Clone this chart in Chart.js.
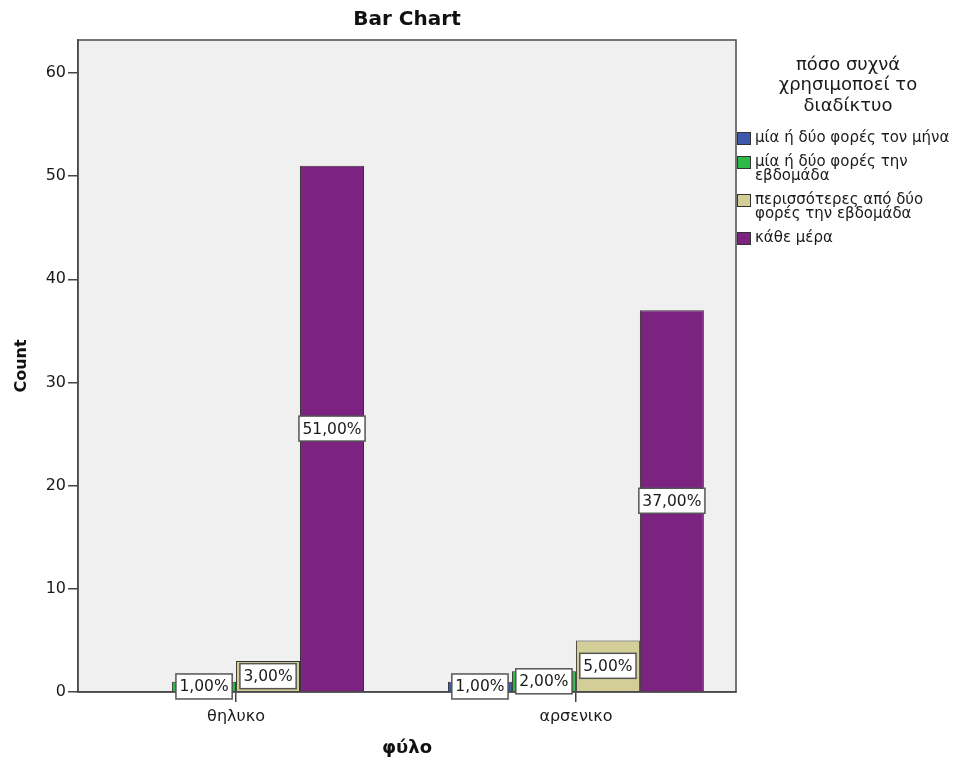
<!DOCTYPE html>
<html><head><meta charset="utf-8">
<script src="https://cdn.jsdelivr.net/npm/chart.js@4"></script>
<style>html,body{margin:0;padding:0;background:#fff}#wrap{width:966px;height:764px;position:relative}</style>
</head><body><div id="wrap"><canvas id="c" width="966" height="764"></canvas></div>
<script>
// ---- data ----
const chartTitle = 'Bar Chart';
const xTitle = 'φύλο';
const yTitle = 'Count';
const categories = ['θηλυκο', 'αρσενικο'];
const legendTitle = ['πόσο συχνά', 'χρησιμοποεί το', 'διαδίκτυο'];
const seriesNames = ['μία ή δύο φορές τον μήνα', 'μία ή δύο φορές την εβδομάδα', 'περισσότερες από δύο φορές την εβδομάδα', 'κάθε μέρα'];
const seriesLegendLines = [['μία ή δύο φορές τον μήνα'], ['μία ή δύο φορές την', 'εβδομάδα'], ['περισσότερες από δύο', 'φορές την εβδομάδα'], ['κάθε μέρα']];
const onceTwiceMonth = [0, 1];
const onceTwiceWeek = [1, 2];
const moreThanTwiceWeek = [3, 5];
const everyDay = [51, 37];
const yTicks = [0, 10, 20, 30, 40, 50, 60];
const seriesColors = ['#3E58AC', '#2EB848', '#D3CE97', '#7C2281'];

const seriesValues = [onceTwiceMonth, onceTwiceWeek, moreThanTwiceWeek, everyDay];
const grandTotal = seriesValues.reduce((a, arr) => a + arr.reduce((b, v) => b + v, 0), 0);
const FONT = "'DejaVu Sans', sans-serif";

const datasets = seriesValues.map((vals, s) => ({
  label: seriesNames[s],
  data: vals.map((v, i) => ({ x: i, y: v })),
  backgroundColor: seriesColors[s],
  borderColor: '#333',
  borderWidth: 1,
  categoryPercentage: 0.753,
  barPercentage: 1
}));

const bgPlugin = {
  id: 'bg',
  beforeDraw(chart) {
    const { ctx, chartArea: a } = chart;
    ctx.save();
    ctx.fillStyle = '#F0F0F0';
    ctx.fillRect(a.left, a.top, a.right - a.left, a.bottom - a.top);
    ctx.restore();
  },
  afterDatasetsDraw(chart) {
    const { ctx, chartArea: a } = chart;
    ctx.save();
    ctx.strokeStyle = '#4a4a4a';
    ctx.lineWidth = 1.5;
    ctx.strokeRect(a.left, a.top, a.right - a.left, a.bottom - a.top);
    // value labels
    ctx.font = '15.5px ' + FONT;
    ctx.textAlign = 'center';
    ctx.textBaseline = 'middle';
    chart.data.datasets.forEach((ds, di) => {
      const meta = chart.getDatasetMeta(di);
      meta.data.forEach((el, i) => {
        const v = ds.data[i].y;
        if (!v) return;
        const txt = (v / grandTotal * 100).toFixed(2).replace('.', ',') + '%';
        const cx = el.x, cy = (el.y + el.base) / 2;
        const w = ctx.measureText(txt).width + 7, h = 25;
        ctx.fillStyle = '#fff';
        ctx.fillRect(cx - w / 2, cy - h / 2, w, h);
        ctx.strokeStyle = '#555';
        ctx.lineWidth = 1.5;
        ctx.strokeRect(cx - w / 2, cy - h / 2, w, h);
        ctx.fillStyle = '#1a1a1a';
        ctx.fillText(txt, cx, cy + 1);
      });
    });
    ctx.restore();
  },
  afterDraw(chart) {
    const { ctx, chartArea: a } = chart;
    ctx.save();
    ctx.fillStyle = '#111';
    ctx.textAlign = 'center';
    ctx.textBaseline = 'middle';
    ctx.font = 'bold 20px ' + FONT;
    ctx.fillText(chartTitle, (a.left + a.right) / 2, 20);
    // legend
    ctx.fillStyle = '#1a1a1a';
    ctx.font = '18px ' + FONT;
    const lx = 848;
    legendTitle.forEach((t, k) => ctx.fillText(t, lx, 65 + k * 20.5));
    ctx.font = '15px ' + FONT;
    ctx.textAlign = 'left';
    let y = 138;
    chart.data.datasets.forEach((ds, s) => {
      const lines = seriesLegendLines[s];
      ctx.fillStyle = ds.backgroundColor;
      ctx.fillRect(737, y - 6, 14, 13);
      ctx.strokeStyle = '#333';
      ctx.lineWidth = 1;
      ctx.strokeRect(737.5, y - 5.5, 13, 12);
      ctx.fillStyle = '#1a1a1a';
      lines.forEach((ln, k) => ctx.fillText(ln, 755, y + k * 14));
      y += lines.length * 14 + 10;
    });
    ctx.restore();
  }
};

new Chart(document.getElementById('c'), {
  type: 'bar',
  data: { datasets },
  options: {
    responsive: false,
    animation: false,
    layout: { padding: { top: 40, right: 230, left: 0, bottom: 0 } },
    plugins: { legend: { display: false }, title: { display: false }, tooltip: { enabled: false } },
    scales: {
      x: {
        type: 'linear', min: -0.465, max: 1.471, offset: false,
        afterBuildTicks: s => { s.ticks = categories.map((c, i) => ({ value: i })); },
        ticks: { callback: v => categories[v], font: { family: FONT, size: 16 }, color: '#1a1a1a', padding: 5, autoSkip: false, maxRotation: 0 },
        grid: { display: true, offset: false, drawOnChartArea: false, drawTicks: true, tickLength: 10, color: '#444', lineWidth: 1.5 },
        border: { display: true, color: '#444', width: 1.5 },
        title: { display: true, text: xTitle, font: { family: FONT, size: 18, weight: 'bold' }, color: '#111', padding: { top: 0, bottom: 5 } },
        afterFit: s => { s.height = 72; }
      },
      y: {
        min: 0, max: 63.2,
        afterBuildTicks: s => { s.ticks = yTicks.map(v => ({ value: v })); },
        ticks: { font: { family: FONT, size: 16 }, color: '#1a1a1a', padding: 2 },
        grid: { display: true, drawOnChartArea: false, drawTicks: true, tickLength: 10, color: '#444', lineWidth: 1.5 },
        border: { display: true, color: '#444', width: 1.5 },
        title: { display: true, text: yTitle, font: { family: FONT, size: 16, weight: 'bold' }, color: '#111', padding: { top: 12, bottom: 0 } },
        afterFit: s => { s.width = 78; }
      }
    }
  },
  plugins: [bgPlugin]
});
</script>
</body></html>
